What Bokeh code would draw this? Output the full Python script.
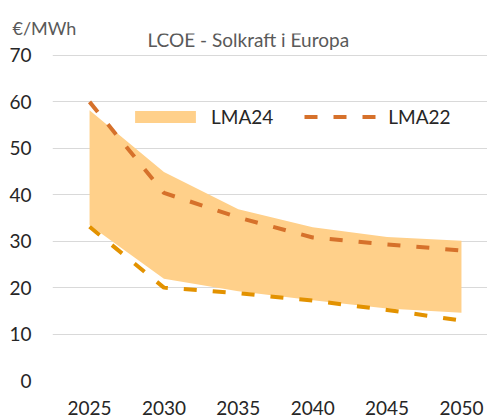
from bokeh.plotting import figure
from bokeh.models import Range1d, FixedTicker, Legend, LegendItem, Title, Label
from bokeh.embed import file_html
from bokeh.resources import INLINE

years = [2025, 2030, 2035, 2040, 2045, 2050]
lma24_high = [58.2, 44.9, 36.9, 33.0, 30.9, 30.1]
lma24_low = [33.5, 21.9, 19.2, 17.3, 15.5, 14.6]
lma22_high = [60.0, 40.4, 35.1, 30.8, 29.3, 28.0]
lma22_low = [33.1, 20.0, 18.8, 17.2, 15.2, 12.9]
y_ticks = [0, 10, 20, 30, 40, 50, 60, 70]
title_text = "LCOE - Solkraft i Europa"
unit_text = "€/MWh"

FONT = "Lato"
TOP = 33          # frame top (px)
BOTTOM = 381      # frame bottom (px)
PX_PER_UNIT = (BOTTOM - 55) / 70.0

p = figure(width=487, height=417, output_backend="svg", toolbar_location=None,
           x_range=Range1d(2022.51, 2051.75),
           y_range=Range1d(0, 70 + (55 - TOP) / PX_PER_UNIT),
           min_border_left=52, min_border_right=0, min_border_top=TOP, min_border_bottom=417 - BOTTOM)
p.outline_line_color = None
p.background_fill_color = "white"
p.border_fill_color = "white"

area = p.varea(x=years, y1=lma24_low, y2=lma24_high, fill_color="#FFD08A")
hi = p.line(years, lma22_high, line_color="#D6712B", line_width=4, line_dash="13 16")
lo = p.line(years, lma22_low, line_color="#E39200", line_width=4, line_dash="13 16")

p.xaxis.ticker = FixedTicker(ticks=years)
p.yaxis.ticker = FixedTicker(ticks=y_ticks)
for ax in (p.xaxis, p.yaxis):
    ax.axis_line_color = None
    ax.major_tick_line_color = None
    ax.minor_tick_line_color = None
    ax.major_label_text_font = FONT
    ax.major_label_text_font_size = "19px"
    ax.major_label_text_color = "#262626"
p.xaxis.major_label_standoff = 14
p.yaxis.major_label_standoff = 15
p.xgrid.grid_line_color = None
p.ygrid.grid_line_color = "#D9D9D9"
p.ygrid.grid_line_width = 1.2

legend = Legend(items=[LegendItem(label="LMA24", renderers=[area]),
                       LegendItem(label="LMA22", renderers=[hi])],
                orientation="horizontal", location=(75, 252))
legend.glyph_width = 76
legend.glyph_height = 15
legend.label_text_font = FONT
legend.label_text_font_size = "19px"
legend.label_text_color = "#262626"
legend.label_standoff = 8
legend.spacing = 31
legend.padding = 0
legend.margin = 0
legend.border_line_color = None
legend.background_fill_alpha = 0
p.add_layout(legend)

p.title = Title(text=unit_text, align="left", offset=-40, text_font=FONT,
                text_font_size="18px", text_color="#595959", text_font_style="normal",
                standoff=-10)
p.add_layout(Label(x=147 - 52, y=BOTTOM - 40, x_units="screen", y_units="screen",
                   text=title_text, text_font=FONT, text_font_size="19px",
                   text_color="#595959", text_align="left", text_baseline="middle"))

open("out.html", "w").write(file_html(p, INLINE))
